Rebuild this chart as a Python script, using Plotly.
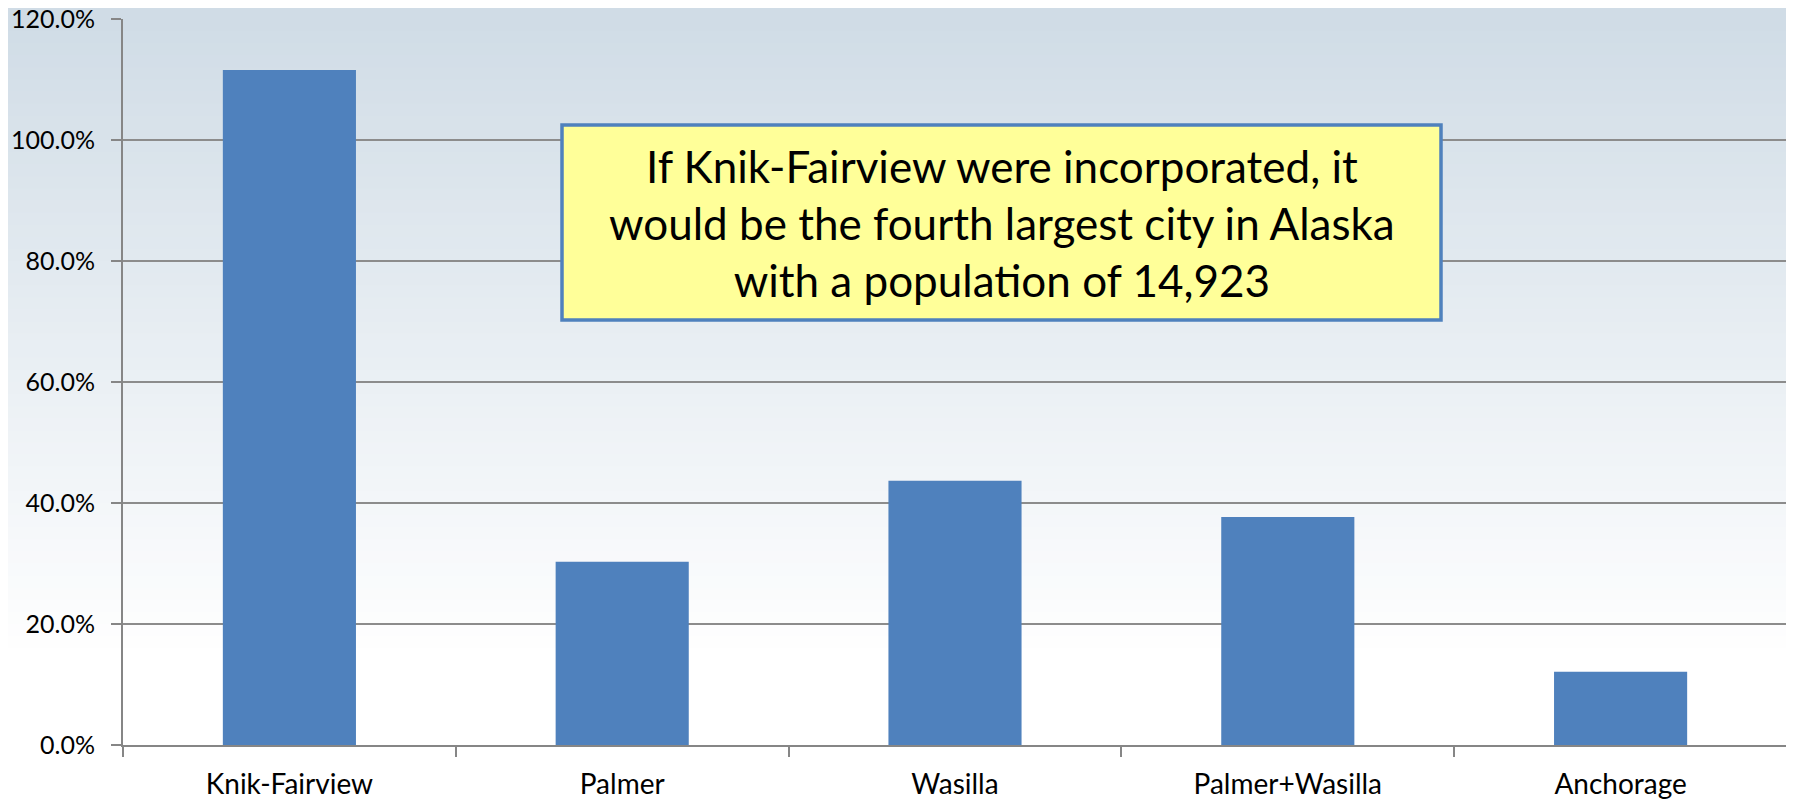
import plotly.graph_objects as go

categories = ["Knik-Fairview", "Palmer", "Wasilla", "Palmer+Wasilla", "Anchorage"]
growth = [1.116, 0.303, 0.437, 0.377, 0.121]
y_ticks = [0.0, 0.2, 0.4, 0.6, 0.8, 1.0, 1.2]
note_lines = [
    "If Knik-Fairview were incorporated, it",
    "would be the fourth largest city in Alaska",
    "with a population of 14,923",
]

# the page body adds an 8px margin, so the figure is a bit smaller than the window
OFF = 8
W, H = 1794 - OFF, 800 - OFF
L, R, T, B = 123 - OFF, 7, 19 - OFF, 55
PW, PH = W - L - R, H - T - B


def blend(c1, c2, t):
    return "rgb(%d,%d,%d)" % tuple(round(a + (b - a) * t) for a, b in zip(c1, c2))


# soft vertical gradient behind the chart, drawn as thin bands
top_col = (208, 220, 230)
bottom_col = (255, 255, 255)
bands = []
n = 60
fade_end = 0.12
for i in range(n):
    y0 = i / n
    y1 = (i + 1) / n + 0.002
    t = max(0.0, min(1.0, (1 - (y0 + y1) / 2) / (1 - fade_end)))
    bands.append(dict(type="rect", xref="paper", yref="paper", x0=-0.1, x1=1.1,
                      y0=y0 - 0.1 if i == 0 else y0, y1=y1 + 0.1 if i == n - 1 else y1,
                      layer="below", line=dict(width=0),
                      fillcolor=blend(top_col, bottom_col, t)))

fig = go.Figure(go.Bar(
    x=categories, y=growth,
    marker=dict(color="#4f81bd", line=dict(width=0)),
    width=0.4,
))


def px_x(x):
    return (x - OFF - L) / PW


def px_y(y):
    return (H - B - (y - OFF)) / PH


fig.update_layout(
    width=W, height=H,
    margin=dict(l=L, r=R, t=T, b=B),
    paper_bgcolor="rgba(0,0,0,0)",
    plot_bgcolor="rgba(0,0,0,0)",
    showlegend=False,
    font=dict(family="Lato, 'Open Sans', sans-serif", color="#000000"),
    shapes=bands + [dict(type="rect", xref="paper", yref="paper",
                         x0=px_x(562), x1=px_x(1441), y0=px_y(320), y1=px_y(125),
                         fillcolor="#ffff99", line=dict(color="#4f81bd", width=3.5),
                         layer="above")],
    annotations=[dict(
        xref="paper", yref="paper",
        x=px_x((562 + 1441) / 2), y=px_y(223),
        text="<br>".join(note_lines), showarrow=False,
        font=dict(size=44, color="#000000", family="Lato, 'Open Sans', sans-serif"),
        align="center", xanchor="center", yanchor="middle",
    )],
)

fig.update_yaxes(
    range=[0, 1.2002], tickmode="array", tickvals=y_ticks, tickformat=".1%",
    showgrid=True, gridcolor="#8c8c8c", gridwidth=1.5,
    showline=True, linecolor="#868686", linewidth=2,
    ticks="outside", ticklen=10, tickcolor="#868686", tickwidth=1.5,
    tickfont=dict(size=25), zeroline=False, automargin=False,
    ticklabelstandoff=11, ticklabeloverflow="allow",
)
fig.update_xaxes(
    showline=True, linecolor="#868686", linewidth=2,
    ticks="outside", tickson="boundaries", ticklen=10,
    tickcolor="#868686", tickwidth=1.5,
    tickfont=dict(size=28), showgrid=False, automargin=False,
    ticklabelstandoff=13, ticklabeloverflow="allow",
)

fig.write_html("out.html")
